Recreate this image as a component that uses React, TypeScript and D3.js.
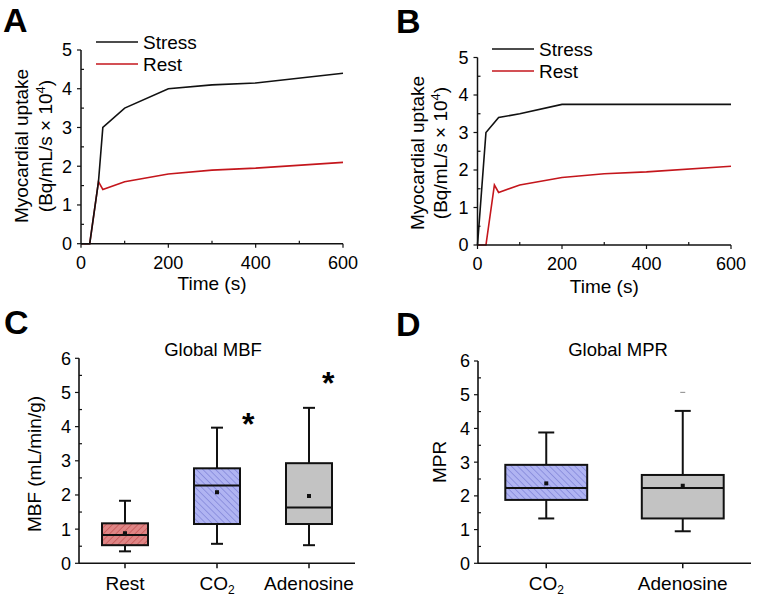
import React from 'react';
import * as d3 from 'd3';

const FONT = '"Liberation Sans", Arial, Helvetica, sans-serif';

// ---- Panel A data ----
const timeA = [0, 20, 40, 50, 100, 200, 300, 400, 600];
const stressA = [0, 0, 1.6, 3.0, 3.5, 4.0, 4.1, 4.15, 4.4];
const restA = [0, 0, 1.6, 1.4, 1.6, 1.8, 1.9, 1.95, 2.1];

// ---- Panel B data ----
const timeBStress = [0, 20, 50, 100, 200, 600];
const stressB = [0, 3.0, 3.4, 3.5, 3.75, 3.75];
const timeBRest = [0, 20, 40, 50, 100, 200, 300, 400, 600];
const restB = [0, 0, 1.6, 1.4, 1.6, 1.8, 1.9, 1.95, 2.1];

const xTicksTime = [0, 200, 400, 600];
const yTicksUptake = [0, 1, 2, 3, 4, 5];

// ---- Panel C data (Global MBF) ----
const mbfCats = ['Rest', 'CO2', 'Adenosine'];
const mbfMin = [0.35, 0.57, 0.53];
const mbfQ1 = [0.53, 1.15, 1.15];
const mbfMed = [0.83, 2.28, 1.63];
const mbfQ3 = [1.17, 2.78, 2.93];
const mbfMax = [1.83, 3.97, 4.55];
const mbfMean = [0.88, 2.08, 1.97];
const mbfStar = [null, 4.29, 5.5];

// ---- Panel D data (Global MPR) ----
const mprCats = ['CO2', 'Adenosine'];
const mprMin = [1.33, 0.95];
const mprQ1 = [1.88, 1.33];
const mprMed = [2.23, 2.23];
const mprQ3 = [2.92, 2.62];
const mprMax = [3.88, 4.52];
const mprMean = [2.37, 2.3];
const mprOutlier = [null, 5.07];

const yTicksBox = [0, 1, 2, 3, 4, 5, 6];

const fillFor: Record<string, string> = {
  Rest: 'url(#hatchRed)',
  CO2: 'url(#hatchBlue)',
  Adenosine: '#c3c3c3',
};

function CatLabel({ x, y, label }: { x: number; y: number; label: string }) {
  if (label === 'CO2') {
    return (
      <text x={x} y={y} textAnchor="middle" fontSize={19} fontFamily={FONT}>
        <tspan>CO</tspan>
        <tspan dy={3.5} fontSize={12}>2</tspan>
      </text>
    );
  }
  return (
    <text x={x} y={y} textAnchor="middle" fontSize={19} fontFamily={FONT}>
      {label}
    </text>
  );
}

type LineProps = {
  letter: string;
  letterPos: [number, number];
  xr: [number, number];
  yr: [number, number];
  sT: number[];
  sV: number[];
  rT: number[];
  rV: number[];
  legend: [number, number];
  ytitleX: [number, number];
  ytitleY: number;
  xtitleY: number;
};

function LinePanel(p: LineProps) {
  const x = d3.scaleLinear().domain([0, 600]).range(p.xr);
  const y = d3.scaleLinear().domain([0, 5]).range(p.yr);
  const line = d3
    .line<[number, number]>()
    .x((d) => x(d[0]))
    .y((d) => y(d[1]));
  const sPts = p.sT.map((t, i) => [t, p.sV[i]] as [number, number]);
  const rPts = p.rT.map((t, i) => [t, p.rV[i]] as [number, number]);
  const xMinor = d3.range(100, 600, 200);
  const yMinor = d3.range(0.5, 5, 1);
  const [lx, ly] = p.legend;
  const midY = p.ytitleY;
  return (
    <g>
      <text x={p.letterPos[0]} y={p.letterPos[1]} fontSize={34} fontWeight="bold" fontFamily={FONT}>
        {p.letter}
      </text>
      {/* legend */}
      <line x1={lx} x2={lx + 42} y1={ly} y2={ly} stroke="#111" strokeWidth={1.5} />
      <text x={lx + 47} y={ly} dy="0.36em" fontSize={19} fontFamily={FONT}>Stress</text>
      <line x1={lx} x2={lx + 42} y1={ly + 22} y2={ly + 22} stroke="#c4161c" strokeWidth={1.5} />
      <text x={lx + 47} y={ly + 22} dy="0.36em" fontSize={19} fontFamily={FONT}>Rest</text>
      {/* data lines */}
      <path d={line(rPts) || ''} fill="none" stroke="#c4161c" strokeWidth={1.6} strokeLinejoin="miter" />
      <path d={line(sPts) || ''} fill="none" stroke="#111" strokeWidth={1.6} strokeLinejoin="miter" />
      {/* axes */}
      <line x1={p.xr[0]} x2={p.xr[1]} y1={p.yr[0]} y2={p.yr[0]} stroke="#111" strokeWidth={1.5} />
      <line x1={p.xr[0]} x2={p.xr[0]} y1={p.yr[0]} y2={p.yr[1]} stroke="#111" strokeWidth={1.5} />
      {xTicksTime.map((t) => (
        <g key={'xt' + t}>
          <line x1={x(t)} x2={x(t)} y1={p.yr[0]} y2={p.yr[0] + 4} stroke="#111" strokeWidth={1.2} />
          <text x={x(t)} y={p.yr[0] + 25} textAnchor="middle" fontSize={18} fontFamily={FONT}>{t}</text>
        </g>
      ))}
      {xMinor.map((t) => (
        <line key={'xm' + t} x1={x(t)} x2={x(t)} y1={p.yr[0]} y2={p.yr[0] - 3} stroke="#111" strokeWidth={1.2} />
      ))}
      {yTicksUptake.map((v) => (
        <g key={'yt' + v}>
          <line x1={p.xr[0] - 4} x2={p.xr[0]} y1={y(v)} y2={y(v)} stroke="#111" strokeWidth={1.2} />
          <text x={p.xr[0] - 9} y={y(v)} dy="0.36em" textAnchor="end" fontSize={18} fontFamily={FONT}>{v}</text>
        </g>
      ))}
      {yMinor.map((v) => (
        <line key={'ym' + v} x1={p.xr[0]} x2={p.xr[0] + 3} y1={y(v)} y2={y(v)} stroke="#111" strokeWidth={1.2} />
      ))}
      {/* titles */}
      <text x={(p.xr[0] + p.xr[1]) / 2} y={p.xtitleY} textAnchor="middle" fontSize={19} fontFamily={FONT}>
        Time (s)
      </text>
      <text transform={`translate(${p.ytitleX[0]},${midY}) rotate(-90)`} textAnchor="middle" fontSize={19} fontFamily={FONT}>
        Myocardial uptake
      </text>
      <text transform={`translate(${p.ytitleX[1]},${midY}) rotate(-90)`} textAnchor="middle" fontSize={19} fontFamily={FONT}>
        <tspan>(Bq/mL/s × 10</tspan>
        <tspan dy={-7} fontSize={13}>4</tspan>
        <tspan dy={7}>)</tspan>
      </text>
    </g>
  );
}

type BoxProps = {
  letter: string;
  letterPos: [number, number];
  title: string;
  titleX: number;
  cats: string[];
  mn: number[];
  q1: number[];
  md: number[];
  q3: number[];
  mx: number[];
  mean: number[];
  xr: [number, number];
  yr: [number, number];
  boxFrac: number;
  capW: number;
  ytitle: string;
  ytitleX: number;
  ytitleY: number;
  stars?: (number | null)[];
  starShift?: number[];
  outliers?: (number | null)[];
};

function BoxPanel(p: BoxProps) {
  const x = d3.scaleBand<string>().domain(p.cats).range(p.xr).padding(0);
  const y = d3.scaleLinear().domain([0, 6]).range(p.yr);
  const bw = x.step() * p.boxFrac;
  const yMinor = d3.range(0.5, 6, 1);
  const ax = p.xr[0];
  return (
    <g>
      <text x={p.letterPos[0]} y={p.letterPos[1]} fontSize={34} fontWeight="bold" fontFamily={FONT}>
        {p.letter}
      </text>
      <text x={p.titleX} y={356} textAnchor="middle" fontSize={18.5} fontFamily={FONT}>{p.title}</text>
      {p.cats.map((c, i) => {
        const cx = (x(c) as number) + x.step() / 2;
        return (
          <g key={c}>
            <line x1={cx} x2={cx} y1={y(p.q3[i])} y2={y(p.mx[i])} stroke="#111" strokeWidth={2} />
            <line x1={cx} x2={cx} y1={y(p.q1[i])} y2={y(p.mn[i])} stroke="#111" strokeWidth={2} />
            <line x1={cx - p.capW / 2} x2={cx + p.capW / 2} y1={y(p.mx[i])} y2={y(p.mx[i])} stroke="#111" strokeWidth={2} />
            <line x1={cx - p.capW / 2} x2={cx + p.capW / 2} y1={y(p.mn[i])} y2={y(p.mn[i])} stroke="#111" strokeWidth={2} />
            <rect
              x={cx - bw / 2}
              y={y(p.q3[i])}
              width={bw}
              height={y(p.q1[i]) - y(p.q3[i])}
              fill={fillFor[c]}
              stroke="#111"
              strokeWidth={2}
            />
            <line x1={cx - bw / 2} x2={cx + bw / 2} y1={y(p.md[i])} y2={y(p.md[i])} stroke="#111" strokeWidth={2} />
            <rect x={cx - 2} y={y(p.mean[i]) - 2} width={4} height={4} fill="#111" />
            {p.stars && p.stars[i] != null && (
              <text
                x={cx + x.step() * (p.starShift ? p.starShift[i] : 0)}
                y={y(p.stars[i] as number)}
                dy="0.57em"
                textAnchor="middle"
                fontSize={32}
                fontWeight="bold"
                fontFamily={FONT}
              >
                *
              </text>
            )}
            {p.outliers && p.outliers[i] != null && (
              <line x1={cx - 2.5} x2={cx + 2.5} y1={y(p.outliers[i] as number)} y2={y(p.outliers[i] as number)} stroke="#888" strokeWidth={1} />
            )}
            <line x1={cx} x2={cx} y1={p.yr[0]} y2={p.yr[0] + 5} stroke="#111" strokeWidth={1.5} />
            <CatLabel x={cx} y={590} label={c} />
          </g>
        );
      })}
      <line x1={p.xr[0]} x2={p.xr[1]} y1={p.yr[0]} y2={p.yr[0]} stroke="#111" strokeWidth={1.6} />
      <line x1={ax} x2={ax} y1={p.yr[0]} y2={p.yr[1]} stroke="#111" strokeWidth={1.6} />
      {yTicksBox.map((v) => (
        <g key={'t' + v}>
          <line x1={ax - 4} x2={ax} y1={y(v)} y2={y(v)} stroke="#111" strokeWidth={1.2} />
          <text x={ax - 8} y={y(v)} dy="0.36em" textAnchor="end" fontSize={18} fontFamily={FONT}>{v}</text>
        </g>
      ))}
      {yMinor.map((v) => (
        <line key={'m' + v} x1={ax} x2={ax + 3} y1={y(v)} y2={y(v)} stroke="#111" strokeWidth={1.2} />
      ))}
      <text transform={`translate(${p.ytitleX},${p.ytitleY}) rotate(-90)`} textAnchor="middle" fontSize={19} fontFamily={FONT}>
        {p.ytitle}
      </text>
    </g>
  );
}

export default function App() {
  return (
    <svg
      width={757}
      height={597}
      viewBox="0 0 757 597"
      style={{ position: 'absolute', left: 0, top: 0, background: '#fff' }}
    >
      <defs>
        <pattern id="hatchRed" patternUnits="userSpaceOnUse" width={4.5} height={4.5} patternTransform="rotate(45)">
          <rect width={4.5} height={4.5} fill="#df8585" />
          <line x1={0} y1={0} x2={0} y2={4.5} stroke="#b84040" strokeWidth={1} />
        </pattern>
        <pattern id="hatchBlue" patternUnits="userSpaceOnUse" width={4.5} height={4.5} patternTransform="rotate(-45)">
          <rect width={4.5} height={4.5} fill="#b0b4f2" />
          <line x1={0} y1={0} x2={0} y2={4.5} stroke="#6b70cc" strokeWidth={1} />
        </pattern>
      </defs>
      <rect width={757} height={597} fill="#fff" />
      <LinePanel
        letter="A"
        letterPos={[3, 32]}
        xr={[81, 343]}
        yr={[243.7, 50]}
        sT={timeA}
        sV={stressA}
        rT={timeA}
        rV={restA}
        legend={[96, 42]}
        ytitleX={[28, 52]}
        ytitleY={146}
        xtitleY={290}
      />
      <LinePanel
        letter="B"
        letterPos={[396, 33]}
        xr={[477.5, 731]}
        yr={[245, 57.5]}
        sT={timeBStress}
        sV={stressB}
        rT={timeBRest}
        rV={restB}
        legend={[492, 49]}
        ytitleX={[424, 447]}
        ytitleY={153}
        xtitleY={293}
      />
      <BoxPanel
        letter="C"
        letterPos={[4, 334]}
        title="Global MBF"
        titleX={213}
        cats={mbfCats}
        mn={mbfMin}
        q1={mbfQ1}
        md={mbfMed}
        q3={mbfQ3}
        mx={mbfMax}
        mean={mbfMean}
        xr={[79, 355]}
        yr={[563.3, 358.3]}
        boxFrac={0.5}
        capW={12}
        ytitle="MBF (mL/min/g)"
        ytitleX={41}
        ytitleY={464}
        stars={mbfStar}
        starShift={[0, 0.34, 0.21]}
      />
      <BoxPanel
        letter="D"
        letterPos={[396, 336]}
        title="Global MPR"
        titleX={618}
        cats={mprCats}
        mn={mprMin}
        q1={mprQ1}
        md={mprMed}
        q3={mprQ3}
        mx={mprMax}
        mean={mprMean}
        xr={[478, 751]}
        yr={[563.3, 361]}
        boxFrac={0.6}
        capW={16}
        ytitle="MPR"
        ytitleX={446}
        ytitleY={462}
        outliers={mprOutlier}
      />
    </svg>
  );
}
